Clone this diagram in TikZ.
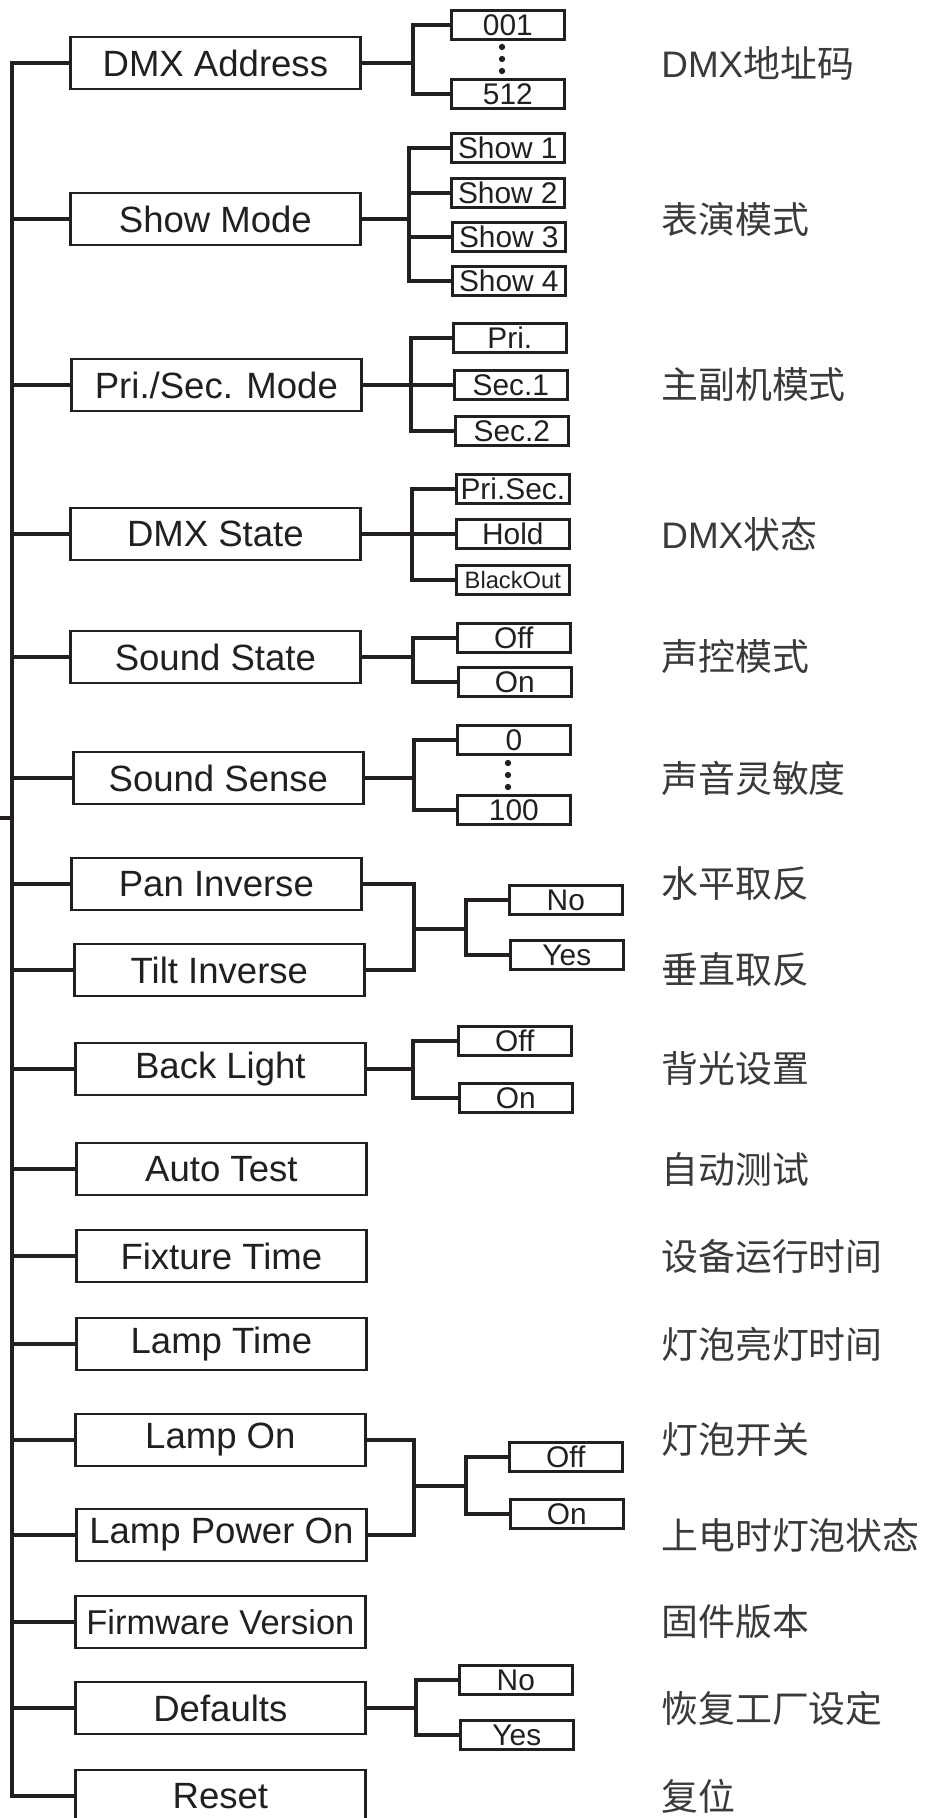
\documentclass[tikz,border=0pt]{standalone}
\usepackage{fontspec}
\setmainfont{Liberation Sans}
\newfontfamily\cjk{Noto Sans CJK SC}
\usetikzlibrary{positioning}
\definecolor{ink}{HTML}{231F20}
\definecolor{cjkgray}{HTML}{3A3A3A}
\tikzstyle{line} = [draw=ink, line width=2.2pt]
\tikzstyle{trunk} = [draw=ink, line width=1.9pt, line cap=rect]
\tikzstyle{menu} = [rectangle, draw=ink, line width=1.6pt, minimum width=5.8cm, minimum height=1.04cm, inner sep=0pt, anchor=west, text=ink, font=\fontsize{20.8}{21}\selectfont]
\tikzstyle{option} = [rectangle, draw=ink, line width=1.5pt, minimum width=2.26cm, minimum height=0.58cm, inner sep=0pt, anchor=west, text=ink, font=\fontsize{17}{17}\selectfont]
\tikzstyle{cnlabel} = [anchor=west, inner sep=0pt, text=cjkgray, font=\fontsize{21}{21}\selectfont]

\begin{document}
\begin{tikzpicture}[x=0.02cm, y=-0.02cm]
\useasboundingbox (0,0) rectangle (934,1818);

% Placement of menu nodes
\node (dmx) [menu] at (69,63) {DMX Address};
\node (show) [menu] at (69,219) {Show Mode};
\node (prisec) [menu] at (70,385) {Pri./Sec. Mode};
\node (dmxstate) [menu] at (69,534) {DMX State};
\node (sndstate) [menu] at (69,657) {Sound State};
\node (sndsense) [menu] at (72,778) {Sound Sense};
\node (pan) [menu] at (70,884) {Pan Inverse};
\node (tilt) [menu] at (73,970) {Tilt Inverse};
\node (backlight) [menu] at (74,1069) {Back Light};
\node (autotest) [menu] at (75,1169) {Auto Test};
\node (fixtime) [menu] at (75,1256) {Fixture Time};
\node (lamptime) [menu] at (75,1344) {Lamp Time};
\node (lampon) [menu] at (74,1440) {Lamp On};
\node (lamppower) [menu] at (75,1535) {Lamp Power On};
\node (firmware) [menu, font=\fontsize{19.6}{20}\selectfont] at (74,1622) {Firmware Version};% narrower text
\node (defaults) [menu] at (74,1708) {Defaults};
\node (reset) [menu] at (74,1796) {Reset};

% Placement of option nodes
\node (addr1) [option] at (450,25) {001};
\node (addr512) [option] at (450,94) {512};
\node (show1) [option] at (450,148) {Show 1};
\node (show2) [option] at (450,193) {Show 2};
\node (show3) [option] at (451,237) {Show 3};
\node (show4) [option] at (451,281) {Show 4};
\node (pri) [option] at (452,338) {Pri.};
\node (sec1) [option] at (453,385) {Sec.1};
\node (sec2) [option] at (454,431) {Sec.2};
\node (stpri) [option] at (455,489) {Pri.Sec.};
\node (sthold) [option] at (455,534) {Hold};
\node (stblack) [option, font=\fontsize{13.5}{14}\selectfont] at (455,580) {BlackOut};
\node (ssoff) [option] at (456,638) {Off};
\node (sson) [option] at (457,682) {On};
\node (sens0) [option] at (456,740) {0};
\node (sens100) [option] at (456,810) {100};
\node (invno) [option] at (508,900) {No};
\node (invyes) [option] at (509,955) {Yes};
\node (bloff) [option] at (457,1041) {Off};
\node (blon) [option] at (458,1098) {On};
\node (lpoff) [option] at (508,1457) {Off};
\node (lpon) [option] at (509,1514) {On};
\node (defno) [option] at (458,1680) {No};
\node (defyes) [option] at (459,1735) {Yes};

% range dots
\foreach \y in {47,59,71} \fill[ink] (502,\y) circle (1.8pt);
\foreach \y in {763,775,787} \fill[ink] (508,\y) circle (1.8pt);

% Chinese names
\node (cndmx) [cnlabel] at (661,63) {DMX{\cjk 地址码}};
\node (cnshow) [cnlabel] at (661,219) {\cjk 表演模式};
\node (cnprisec) [cnlabel] at (661,385) {\cjk 主副机模式};
\node (cnstate) [cnlabel] at (661,534) {DMX{\cjk 状态}};
\node (cnsndstate) [cnlabel] at (661,657) {\cjk 声控模式};
\node (cnsndsense) [cnlabel] at (661,778) {\cjk 声音灵敏度};
\node (cnpan) [cnlabel] at (661,884) {\cjk 水平取反};
\node (cntilt) [cnlabel] at (661,970) {\cjk 垂直取反};
\node (cnback) [cnlabel] at (661,1069) {\cjk 背光设置};
\node (cnauto) [cnlabel] at (661,1169) {\cjk 自动测试};
\node (cnfix) [cnlabel] at (661,1256) {\cjk 设备运行时间};
\node (cnlamptime) [cnlabel] at (661,1344) {\cjk 灯泡亮灯时间};
\node (cnlampon) [cnlabel] at (661,1440) {\cjk 灯泡开关};
\node (cnpower) [cnlabel] at (661,1535) {\cjk 上电时灯泡状态};
\node (cnfirm) [cnlabel] at (661,1622) {\cjk 固件版本};
\node (cndef) [cnlabel] at (661,1708) {\cjk 恢复工厂设定};
\node (cnreset) [cnlabel] at (661,1796) {\cjk 复位};

% Junctions
\coordinate (tr) at (12,0);
\coordinate (menuin) at (0,818);
\coordinate (jdmx) at (413,63);
\coordinate (jshow) at (409,219);
\coordinate (jprisec) at (411,385);
\coordinate (jstate) at (412,534);
\coordinate (jsnd) at (413,657);
\coordinate (jsens) at (414,778);
\coordinate (jinv) at (414,929);
\coordinate (jinvopt) at (466,929);
\coordinate (jback) at (413,1069);
\coordinate (jlamp) at (414,1486);
\coordinate (jlampopt) at (466,1486);
\coordinate (jdef) at (416,1708);

% Drawing of Lines
\draw [trunk] (dmx.west -| tr) -- (reset.west -| tr);
\draw [trunk] (menuin) -- (menuin -| tr);
\foreach \m in {dmx,show,prisec,dmxstate,sndstate,sndsense,pan,tilt,backlight,autotest,fixtime,lamptime,lampon,lamppower,firmware,defaults,reset}
  \draw [line] (\m.west) -- (\m.west -| tr);

\draw [line] (dmx.east) -- (jdmx);
\draw [line] (addr1.west) -| (jdmx);
\draw [line] (addr512.west) -| (jdmx);

\draw [line] (show.east) -- (jshow);
\foreach \o in {show1,show2,show3,show4}
  \draw [line] (\o.west) -| (jshow);

\draw [line] (prisec.east) -- (jprisec);
\foreach \o in {pri,sec1,sec2}
  \draw [line] (\o.west) -| (jprisec);

\draw [line] (dmxstate.east) -- (jstate);
\foreach \o in {stpri,sthold,stblack}
  \draw [line] (\o.west) -| (jstate);

\draw [line] (sndstate.east) -- (jsnd);
\draw [line] (ssoff.west) -| (jsnd);
\draw [line] (sson.west) -| (jsnd);

\draw [line] (sndsense.east) -- (jsens);
\draw [line] (sens0.west) -| (jsens);
\draw [line] (sens100.west) -| (jsens);

\draw [line] (pan.east) -| (jinv);
\draw [line] (tilt.east) -| (jinv);
\draw [line] (jinv) -- (jinvopt);
\draw [line] (invno.west) -| (jinvopt);
\draw [line] (invyes.west) -| (jinvopt);

\draw [line] (backlight.east) -- (jback);
\draw [line] (bloff.west) -| (jback);
\draw [line] (blon.west) -| (jback);

\draw [line] (lampon.east) -| (jlamp);
\draw [line] (lamppower.east) -| (jlamp);
\draw [line] (jlamp) -- (jlampopt);
\draw [line] (lpoff.west) -| (jlampopt);
\draw [line] (lpon.west) -| (jlampopt);

\draw [line] (defaults.east) -- (jdef);
\draw [line] (defno.west) -| (jdef);
\draw [line] (defyes.west) -| (jdef);

\end{tikzpicture}
\end{document}
